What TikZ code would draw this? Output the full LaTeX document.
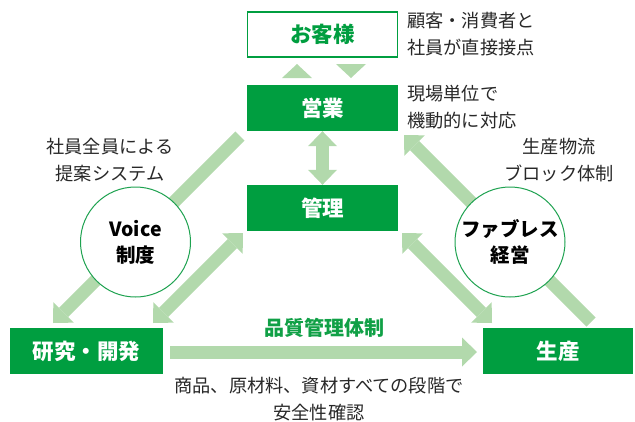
\documentclass[tikz,border=0pt]{standalone}
\usepackage{fontspec}
\setmainfont{Noto Sans CJK JP}
\usetikzlibrary{arrows.meta}
\definecolor{dgreen}{RGB}{0,158,64}
\definecolor{lgreen}{RGB}{178,217,172}
\definecolor{cgreen}{RGB}{30,162,80}
\definecolor{tgreen}{RGB}{16,160,70}
\definecolor{note}{RGB}{40,40,40}
\tikzset{
  fbox/.style={fill=dgreen, text=white, minimum width=151pt, minimum height=46pt, inner sep=0pt,
    font=\fontsize{21.5}{24}\selectfont\bfseries},
  obox/.style={draw=dgreen, line width=1.2pt, fill=white, text=dgreen, minimum width=150pt, minimum height=45pt, inner sep=0pt,
    font=\fontsize{21.5}{24}\selectfont\bfseries},
  ring/.style={circle, draw=cgreen, line width=1pt, fill=white, minimum size=110pt, inner sep=0pt, align=center,
    font=\fontsize{19.5}{26}\selectfont\bfseries},
  notetext/.style={inner sep=0pt, text=note, font=\fontsize{18.2}{27.5}\selectfont},
  tipA/.tip={Triangle[length=15pt,width=29pt,line width=0pt]},
  onearrow/.style={draw=lgreen, line width=13pt, -tipA},
  twoarrow/.style={draw=lgreen, line width=13pt, tipA-tipA},
}
\begin{document}
\begin{tikzpicture}[x=1pt,y=-1pt]
\useasboundingbox (0,0) rectangle (635,421);
% boxes
\node[obox] (okyaku) at (322.5,34.5) {お客様};
\node[fbox] (eigyo) at (322.5,108) {営業};
\node[fbox] (kanri) at (322.5,208) {管理};
\node[fbox, minimum width=153pt] (kenkyu) at (86.5,351) {研究・開発};
\node[fbox, minimum width=150pt] (seisan) at (558,351) {生産};
% small triangles
\fill[lgreen] (282,78) -- (312,78) -- (297,64) -- cycle;
\fill[lgreen] (336,64) -- (366,64) -- (351,78) -- cycle;
% arrow end coordinates
\coordinate (a1s) at (240,136);
\coordinate (a1e) at (53,323);
\coordinate (a2s) at (243,233);
\coordinate (a2e) at (153,323);
\coordinate (a3s) at (591,322);
\coordinate (a3e) at (404,135);
\coordinate (a4s) at (402,233);
\coordinate (a4e) at (492,323);
\coordinate (hs) at (170,352);
\coordinate (he) at (477,352);
% connectors
\draw[twoarrow] (eigyo.south) -- (kanri.north);
\draw[onearrow] (a1s) -- (a1e);
\draw[twoarrow] (a2s) -- (a2e);
\draw[onearrow] (a3s) -- (a3e);
\draw[twoarrow] (a4s) -- (a4e);
\draw[onearrow] (hs) -- (he);
% circles
\node[ring] (voice) at (135.5,242) {Voice\\制度};
\node[ring] (fab) at (510,242) {ファブレス\\経営};
% notes
\node[notetext, anchor=west, align=left] (n1) at (407,34) {顧客・消費者と\\社員が直接接点};
\node[notetext, anchor=west, align=left] (n2) at (407,107) {現場単位で\\機動的に対応};
\node[notetext, align=center] (n3) at (110,160) {社員全員による\\提案システム};
\node[notetext, align=center] (n4) at (559,160) {生産物流\\ブロック体制};
\node[notetext, align=center] (n5) at (319,399) {商品、原材料、資材すべての段階で\\安全性確認};
\node[inner sep=0pt, text=tgreen, font=\fontsize{20}{24}\selectfont\bfseries] (qc) at (324,328) {品質管理体制};
\end{tikzpicture}
\end{document}
